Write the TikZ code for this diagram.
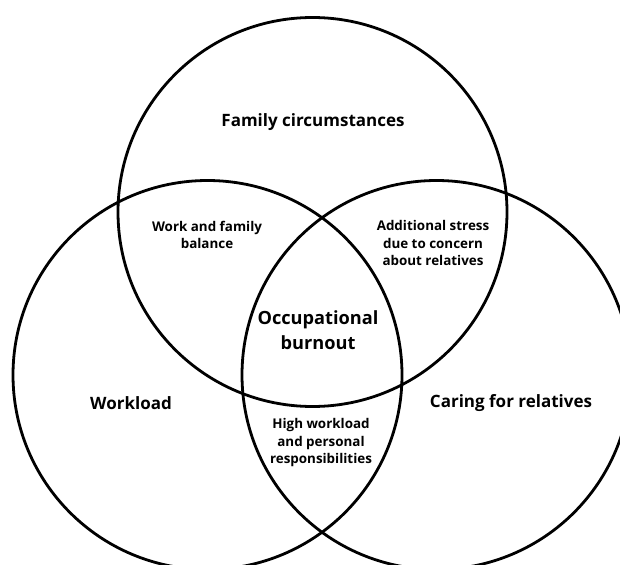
\documentclass[tikz,border=0pt]{standalone}
\usepackage{fontspec}
\setmainfont{Open Sans}
\begin{document}
\begin{tikzpicture}[x=1pt,y=-1pt,
  ring/.style={draw=black,line width=2.8pt},
  biglabel/.style={font=\bfseries\fontsize{17}{20}\selectfont,align=center,inner sep=0pt},
  midlabel/.style={font=\bfseries\fontsize{18.2}{25}\selectfont,align=center,inner sep=0pt},
  smalllabel/.style={font=\bfseries\fontsize{13.4}{17.5}\selectfont,align=center,inner sep=0pt}]
\useasboundingbox (0,0) rectangle (620,564);
\clip (0,0) rectangle (620,564);
\fill[white] (0,0) rectangle (620,564);
\draw[ring] (312.5,212) circle[radius=194.5];
\draw[ring] (207.5,375) circle[radius=194.5];
\draw[ring] (436.5,375) circle[radius=194.5];
\node[biglabel] (fam) at (313,122) {Family circumstances};
\node[biglabel] (work) at (131,403) {Workload};
\node[biglabel] (care) at (511,403) {Caring for relatives};
\node[midlabel] (burn) at (318,330) {Occupational\\burnout};
\node[smalllabel] (wfb) at (207,235) {Work and family\\balance};
\node[smalllabel] (add) at (433,243) {Additional stress\\due to concern\\about relatives};
\node[smalllabel] (high) at (321,443) {High workload\\and personal\\responsibilities};
\end{tikzpicture}
\end{document}
